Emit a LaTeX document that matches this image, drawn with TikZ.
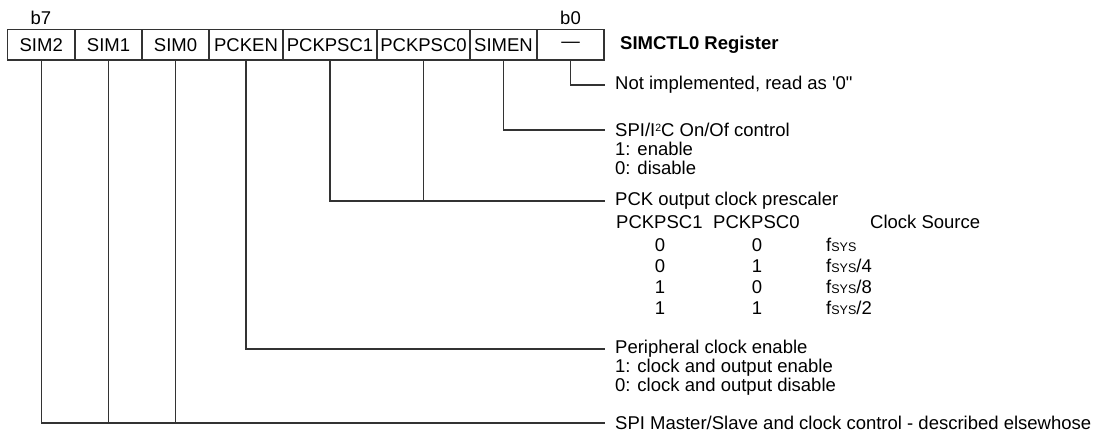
\documentclass[tikz,border=0pt]{standalone}
\usepackage{fontspec}
\setmainfont{Liberation Sans}[Ligatures=TeXOff]
\newcommand\fsys{f{\fontsize{12.5}{12.5}\selectfont SYS}}
\newcommand\suptwo{\raisebox{0.55ex}{\fontsize{10.5}{10.5}\selectfont 2}}
\begin{document}
\begin{tikzpicture}[x=1pt,y=-1pt,
  every node/.style={font=\fontsize{18.5}{21}\selectfont, text=black},
  cell/.style={draw=black!80, line width=1.2pt, minimum height=30.5pt, inner sep=0pt, anchor=center},
  wire/.style={draw=black!80, line width=1.2pt},
  desc/.style={anchor=west, inner xsep=10pt, inner ysep=0pt},
  more/.style={anchor=base west, inner xsep=10pt, inner ysep=0pt},
  lbl/.style={anchor=base, inner sep=0pt},
  lblw/.style={anchor=base west, inner sep=0pt}]
\useasboundingbox (0,0) rectangle (1096,432);

% bit labels
\node[lbl] (b7) at (41,24) {b7};
\node[lbl] (b0) at (570.5,24) {b0};

% register cells
\node[cell, minimum width=67.5pt] (c7) at (41.25,44.75) {SIM2};
\node[cell, minimum width=67pt] (c6) at (108.5,44.75) {SIM1};
\node[cell, minimum width=67pt] (c5) at (175.5,44.75) {SIM0};
\node[cell, minimum width=74pt] (c4) at (246,44.75) {PCKEN};
\node[cell, minimum width=94pt] (c3) at (330,44.75) {PCKPSC1};
\node[cell, minimum width=93pt] (c2) at (423.5,44.75) {PCKPSC0};
\node[cell, minimum width=67pt] (c1) at (503.5,44.75) {SIMEN};
\node[cell, minimum width=67pt] (c0) at (570.5,44.75) {—};

\node[anchor=west, inner sep=0pt, font=\fontsize{18.5}{21}\selectfont\bfseries] (title) at (620,45) {SIMCTL0 Register};

% descriptions
\node[desc] (t0) at (605,85) {Not implemented, read as '0"};

\node[desc] (t1) at (605,130) {SPI/I\suptwo C On/Of control};
\node[more] (t1a) at ([yshift=-19pt]t1.base west) {1: enable};
\node[more] (t1b) at ([yshift=-19pt]t1a.base west) {0: disable};

\node[desc] (t2) at (605,201) {PCK output clock prescaler};
\node[lblw] (h1) at (616,228) {PCKPSC1};
\node[lblw] (h2) at (713,228) {PCKPSC0};
\node[lblw] (h3) at (870,228) {Clock Source};
\foreach \yy/\a/\b/\f [count=\i] in {251/0/0/{}, 272/0/1/{/4}, 293/1/0/{/8}, 314/1/1/{/2}}{
  \node[lbl] (ra\i) at (660,\yy) {\a};
  \node[lbl] (rb\i) at (757,\yy) {\b};
  \node[lblw] (rf\i) at (826,\yy) {\fsys\f};
}

\node[desc] (t4) at (605,349) {Peripheral clock enable};
\node[more] (t4a) at ([yshift=-19pt]t4.base west) {1: clock and output enable};
\node[more] (t4b) at ([yshift=-19pt]t4a.base west) {0: clock and output disable};

\node[desc] (t5) at (605,423) {SPI Master/Slave and clock control - described elsewhose};

% connectors
\draw[wire] (c0.south) |- (t0.west);
\draw[wire] (c1.south) |- (t1.west);
\draw[wire] (c3.south) |- (t2.west);
\draw[wire] (c2.south) -- (c2.south |- t2.west);
\draw[wire] (c4.south) |- (t4.west);
\draw[wire] (c7.south) |- (t5.west);
\draw[wire] (c6.south) -- (c6.south |- t5.west);
\draw[wire] (c5.south) -- (c5.south |- t5.west);
\end{tikzpicture}
\end{document}
